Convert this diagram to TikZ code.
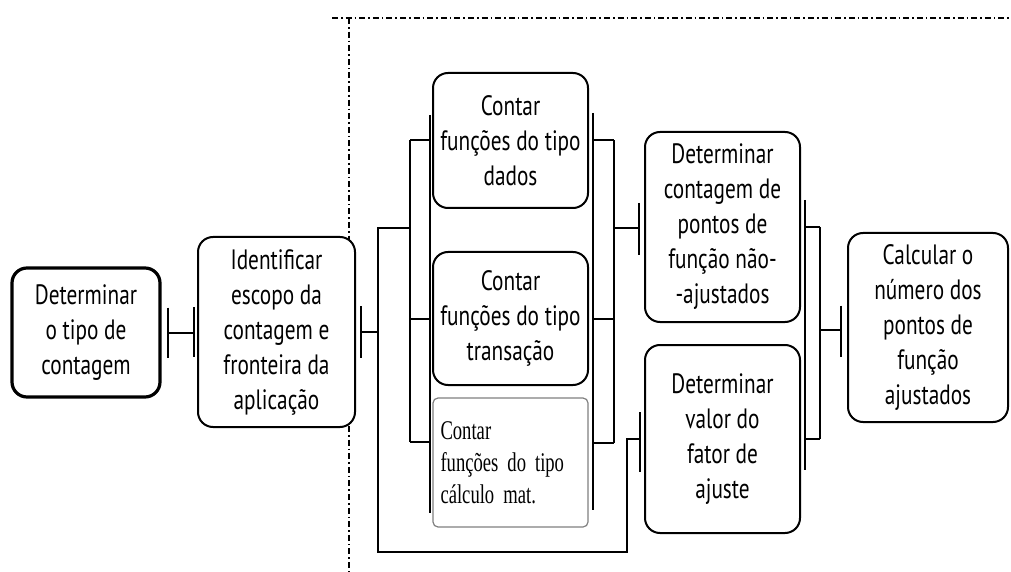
\documentclass[tikz,border=0pt]{standalone}
\usepackage{fontspec}
\usepackage{tikz}
\newfontfamily\boxfont[FakeStretch=0.76]{PT Sans}
\newfontfamily\calcfont[FakeStretch=0.69]{Liberation Serif}
\definecolor{box_gray}{HTML}{808080}

\begin{document}
\begin{tikzpicture}[x=0.5pt,y=-0.5pt,
    stepbox/.style={draw,fill=white,rounded corners=7.5pt,line width=1pt,inner sep=0pt,align=center,
      font=\boxfont\fontsize{14pt}{17.5pt}\selectfont},
    link/.style={line width=1pt},
    border/.style={line width=0.8pt,dash pattern=on 3pt off 1.5pt on 0.8pt off 1.5pt}]
    \useasboundingbox (0,0) rectangle (1011,572);
    % dash-dot frame
    \draw[border] (332,18) -- (1011,18);
    \draw[border] (349,18) -- (349,572);
    \node[stepbox,line width=1.6pt,minimum width=74pt,minimum height=64.5pt] (tipo) at (86,332.5) {Determinar\\o tipo de\\contagem};
    \node[stepbox,minimum width=78.5pt,minimum height=95pt] (escopo) at (276.5,332) {Identificar\\escopo da\\contagem e\\fronteira da\\aplicação};
    \node[stepbox,minimum width=77.5pt,minimum height=67.5pt] (dados) at (510.5,140.5) {Contar\\funções do tipo\\dados};
    \node[stepbox,minimum width=77.5pt,minimum height=66.5pt] (trans) at (510.5,318.5) {Contar\\funções do tipo\\transação};
    \node[stepbox,draw=box_gray,line width=0.6pt,rounded corners=2.5pt,minimum width=77.5pt,minimum height=64.5pt,
      text width=70pt,align=left,font=\calcfont\fontsize{13.5pt}{16pt}\selectfont] (calc) at (510.5,462.5) {Contar\\funções do tipo\\cálculo mat.};
    \node[stepbox,minimum width=77.5pt,minimum height=95pt] (naoaj) at (722.5,227) {Determinar\\contagem de\\pontos de\\função não-\\-ajustados};
    \node[stepbox,minimum width=77.5pt,minimum height=94pt] (ajuste) at (722.5,439) {Determinar\\valor do\\fator de\\ajuste};
    \node[stepbox,minimum width=80pt,minimum height=94.5pt] (final) at (928,327.5) {Calcular o\\número dos\\pontos de\\função\\ajustados};
    % tipo -> escopo
    \draw[link] ([xshift=3pt]tipo.east) -- ([xshift=-1.5pt]tipo.east -| escopo.west);
    \draw[link] ([xshift=3pt,yshift=12.5pt]tipo.east) -- ([xshift=3pt,yshift=-12.5pt]tipo.east);
    \draw[link] ([xshift=-1.5pt,yshift=12.5pt]escopo.west) -- ([xshift=-1.5pt,yshift=-12.5pt]escopo.west);
    % escopo -> contagens
    \coordinate (outer) at (378,228);
    \coordinate (inner) at (410,228);
    \draw[link] ([xshift=2.5pt,yshift=13pt]escopo.east) -- ([xshift=2.5pt,yshift=-13pt]escopo.east);
    \draw[link] ([xshift=2.5pt]escopo.east) -- (outer |- escopo.east);
    \draw[link] (inner) -- (outer) -- (outer |- 0,552) -| ([xshift=-8.5pt]ajuste.west) -- ([xshift=-2pt]ajuste.west);
    \draw[link] ([xshift=-2pt,yshift=13.5pt]ajuste.west) -- ([xshift=-2pt,yshift=-16.5pt]ajuste.west);
    \draw[link] (inner |- dados.west) -- (inner |- 0,442);
    \draw[link] (inner |- dados.west) -- ([xshift=-1.5pt]dados.west);
    \draw[link] (inner |- trans.west) -- ([xshift=-1.5pt]trans.west);
    \draw[link] (inner |- 0,442) -- (430,442);
    \draw[link] (430,115) -- (430,513);
    % contagens -> naoaj
    \coordinate (gather) at (614,228);
    \draw[link] (593,113) -- (593,510);
    \draw[link] ([xshift=2.5pt]dados.east) -- (gather |- dados.east);
    \draw[link] ([xshift=2.5pt]trans.east) -- (gather |- trans.east);
    \draw[link] (593,443) -- (gather |- 0,443);
    \draw[link] (gather |- dados.east) -- (gather |- 0,443);
    \draw[link] (gather) -- ([xshift=-2.5pt]gather -| naoaj.west);
    \draw[link] ([xshift=-2.5pt,yshift=12pt]naoaj.west) -- ([xshift=-2.5pt,yshift=-14pt]naoaj.west);
    % naoaj/ajuste -> final
    \coordinate (join) at (820,330);
    \draw[link] (805,200) -- (805,470);
    \draw[link] ([xshift=2.5pt]naoaj.east) -- (join |- naoaj.east);
    \draw[link] ([xshift=2.5pt]ajuste.east) -- (join |- ajuste.east);
    \draw[link] (join |- naoaj.east) -- (join |- ajuste.east);
    \draw[link] (join) -- ([xshift=-3pt]join -| final.west);
    \draw[link] ([xshift=-3pt,yshift=11pt]final.west) -- ([xshift=-3pt,yshift=-14.5pt]final.west);
\end{tikzpicture}
\end{document}
